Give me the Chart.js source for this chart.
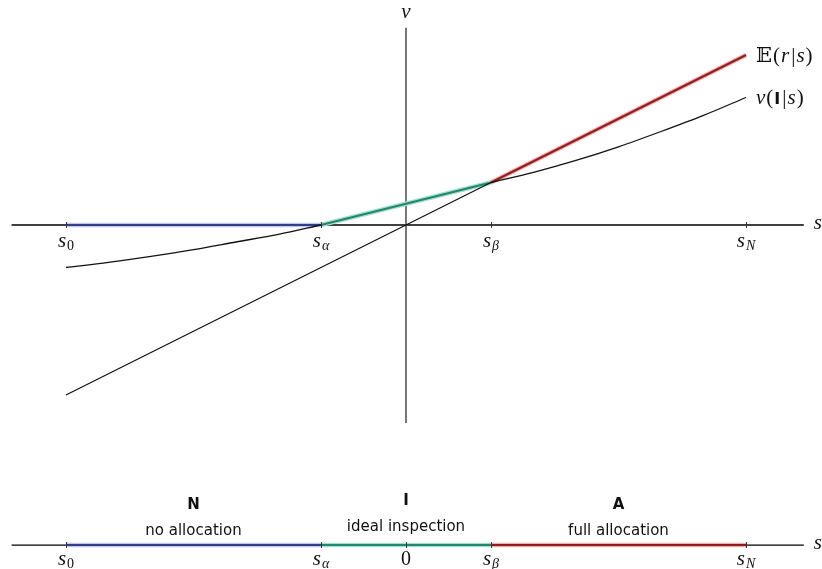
<!DOCTYPE html>
<html>
<head>
<meta charset="utf-8">
<script src="https://cdn.jsdelivr.net/npm/chart.js@4"></script>
<style>html,body{margin:0;padding:0;background:#fff}canvas{display:block}</style>
</head>
<body>
<canvas id="chart" width="822" height="569"></canvas>
<script>
// cutoffs on the signal axis: s0, s_alpha, s_beta, s_N
const cutoffs = [-4, -1, 1, 4];
const axisTicks = [-4, -1, 0, 1, 4];
const axisTickLabels = [['s', '0'], ['s', 'α'], ['0', ''], ['s', 'β'], ['s', 'N']];

// E(r|s)
const eS = [-4, 1, 4];
const eV = [-2, 0.5, 2];

// v(I|s)
const vLeftS = [-4, -3.5, -3, -2.5, -2, -1.5, -1];
const vLeftV = [-0.5, -0.44, -0.37, -0.29, -0.2, -0.11, 0];
const vMidS = [-1, 0, 1];
const vMidV = [0, 0.25, 0.5];
const vRightS = [1, 1.5, 2, 2.5, 3, 3.5, 4];
const vRightV = [0.5, 0.62, 0.76, 0.92, 1.1, 1.29, 1.5];

// regions
const regionKeys = ['N', 'I', 'A'];
const regionNames = ['no allocation', 'ideal inspection', 'full allocation'];
const regionColors = ['#323e8c', '#1b8a6e', '#961a1a'];
const regionGlow = ['#c3c8ea', '#aadccc', '#e6b2b2'];

// layout
const X_AXIS = [-4.64, 4.68];
const V_AXIS = [2.32, -2.33];
const BAND_V = -3.765;

const serif = '"Liberation Serif", "DejaVu Serif", serif';
const sans = '"DejaVu Sans", sans-serif';

const pts = (xs, ys) => xs.map((x, i) => ({ x, y: ys[i] }));
const flat = (xs, v) => xs.map((x) => ({ x, y: v }));

// chart.js paints dataset 0 last, so `order` is used to stack them
const black = (data, curve) => ({
    data,
    order: 1,
    borderColor: '#111',
    borderWidth: 1.3,
    cubicInterpolationMode: curve ? 'monotone' : 'default',
});

// two strokes: a light wide one under a dark narrow one
const glowLine = (data, i) => [
    { data, order: 3, borderColor: regionGlow[i], borderWidth: 4.5 },
    { data, order: 2, borderColor: regionColors[i], borderWidth: 2 },
];

const datasets = [
    ...glowLine(pts(eS.slice(1), eV.slice(1)), 2),
    ...glowLine(pts(vMidS, vMidV), 1),
    ...glowLine(flat([cutoffs[0], cutoffs[1]], 0), 0),
    black(pts(eS.slice(0, 2), eV.slice(0, 2))),
    black(pts(vLeftS, vLeftV), true),
    black(pts(vRightS, vRightV), true),
];
regionKeys.forEach((k, i) => {
    datasets.push(...glowLine(flat([cutoffs[i], cutoffs[i + 1]], BAND_V), i));
});

function drawRuns(ctx, x, y, runs, align) {
    let w = 0;
    runs.forEach((r) => {
        ctx.font = r.f;
        w += ctx.measureText(r.t).width + (r.gap || 0);
    });
    let cx = align === 'center' ? x - w / 2 : x;
    ctx.textBaseline = 'alphabetic';
    ctx.textAlign = 'left';
    runs.forEach((r) => {
        ctx.font = r.f;
        ctx.fillText(r.t, cx, y + (r.dy || 0));
        cx += ctx.measureText(r.t).width + (r.gap || 0);
    });
}

function tickRuns(label) {
    const [main, sub] = label;
    if (main === '0') return [{ t: '0', f: `20px ${serif}` }];
    const subFont = /[0-9]/.test(sub) ? `14px ${serif}` : `italic 14px ${serif}`;
    return [{ t: main, f: `italic 21px ${serif}`, gap: 1 }, { t: sub, f: subFont, dy: 3 }];
}

const diagram = {
    id: 'diagram',
    beforeDatasetsDraw(chart) {
        const { ctx, scales: { x, y } } = chart;
        ctx.save();
        // horizontal axes
        ctx.strokeStyle = '#000';
        ctx.lineWidth = 1.3;
        [0, BAND_V].forEach((v) => {
            ctx.beginPath();
            ctx.moveTo(x.getPixelForValue(X_AXIS[0]), y.getPixelForValue(v));
            ctx.lineTo(x.getPixelForValue(X_AXIS[1]), y.getPixelForValue(v));
            ctx.stroke();
        });
        // vertical axis
        ctx.strokeStyle = '#555';
        ctx.lineWidth = 1.6;
        ctx.beginPath();
        ctx.moveTo(x.getPixelForValue(0), y.getPixelForValue(V_AXIS[0]));
        ctx.lineTo(x.getPixelForValue(0), y.getPixelForValue(V_AXIS[1]));
        ctx.stroke();
        ctx.restore();
    },
    afterDatasetsDraw(chart) {
        const { ctx, scales: { x, y } } = chart;
        ctx.save();
        // tick marks
        ctx.strokeStyle = '#333';
        ctx.lineWidth = 1;
        axisTicks.forEach((t) => {
            const px = Math.round(x.getPixelForValue(t)) + 0.5;
            [0, BAND_V].forEach((v) => {
                if (v === 0 && t === 0) return;
                const py = y.getPixelForValue(v);
                ctx.beginPath();
                ctx.moveTo(px, py - 3);
                ctx.lineTo(px, py + 3);
                ctx.stroke();
            });
        });
        ctx.fillStyle = '#111';
        // tick labels
        axisTicks.forEach((t, i) => {
            const px = x.getPixelForValue(t);
            if (t !== 0) drawRuns(ctx, px, y.getPixelForValue(0) + 22, tickRuns(axisTickLabels[i]), 'center');
            drawRuns(ctx, px, y.getPixelForValue(BAND_V) + 20, tickRuns(axisTickLabels[i]), 'center');
        });
        // axis names
        drawRuns(ctx, x.getPixelForValue(0), y.getPixelForValue(V_AXIS[0]) - 10, [{ t: 'v', f: `italic 21px ${serif}` }], 'center');
        const sx = x.getPixelForValue(X_AXIS[1]) + 10;
        drawRuns(ctx, sx, y.getPixelForValue(0) + 4, [{ t: 's', f: `italic 21px ${serif}` }]);
        drawRuns(ctx, sx, y.getPixelForValue(BAND_V) + 4, [{ t: 's', f: `italic 21px ${serif}` }]);
        // curve labels
        const lx = x.getPixelForValue(eS[eS.length - 1]) + 10;
        drawRuns(ctx, lx, y.getPixelForValue(eV[eV.length - 1]) + 7, [
            { t: '𝔼', f: `21px ${serif}`, gap: 1 },
            { t: '(', f: `21px ${serif}`, gap: 1 },
            { t: 'r', f: `italic 21px ${serif}`, gap: 2 },
            { t: '|', f: `21px ${serif}`, gap: 1 },
            { t: 's', f: `italic 21px ${serif}`, gap: 1 },
            { t: ')', f: `21px ${serif}` },
        ]);
        drawRuns(ctx, lx, y.getPixelForValue(vRightV[vRightV.length - 1]) + 7, [
            { t: 'v', f: `italic 21px ${serif}`, gap: 1 },
            { t: '(', f: `21px ${serif}`, gap: 1 },
            { t: 'I', f: `bold 16px ${sans}`, gap: 2 },
            { t: '|', f: `21px ${serif}`, gap: 1 },
            { t: 's', f: `italic 21px ${serif}`, gap: 1 },
            { t: ')', f: `21px ${serif}` },
        ]);
        // region labels
        const bandY = y.getPixelForValue(BAND_V);
        regionKeys.forEach((k, i) => {
            const cx = (x.getPixelForValue(cutoffs[i]) + x.getPixelForValue(cutoffs[i + 1])) / 2;
            const lift = k === 'I' ? 4 : 0;
            drawRuns(ctx, cx, bandY - 36 - lift, [{ t: k, f: `bold 15px ${sans}` }], 'center');
            drawRuns(ctx, cx, bandY - 10 - lift, [{ t: regionNames[i], f: `15px ${sans}` }], 'center');
        });
        ctx.restore();
    },
};

new Chart(document.getElementById('chart'), {
    type: 'line',
    data: { datasets },
    plugins: [diagram],
    options: {
        responsive: false,
        animation: false,
        layout: { padding: 0 },
        elements: { point: { radius: 0, hoverRadius: 0 } },
        plugins: { legend: { display: false }, tooltip: { enabled: false } },
        scales: {
            x: { type: 'linear', display: false, min: -4.776, max: 4.894 },
            y: { type: 'linear', display: false, min: -4.047, max: 2.647 },
        },
    },
});
</script>
</body>
</html>
